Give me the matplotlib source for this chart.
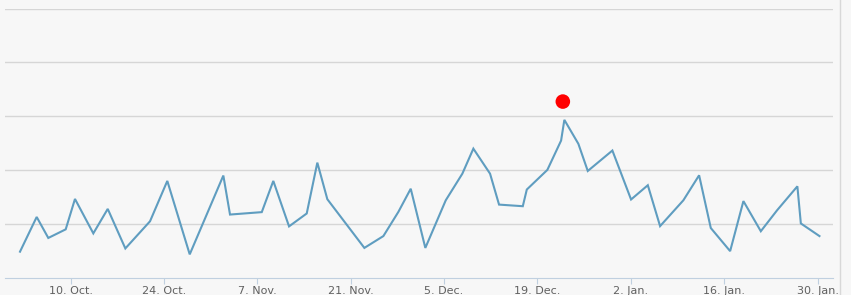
import datetime as dt

import matplotlib
matplotlib.use("Agg")
import matplotlib.dates as mdates
import matplotlib.pyplot as plt
import numpy as np

# days after 10 Oct 2016 (fractional)
day_offsets = [
    -7.57, -5.07, -3.33, -0.72, 0.67, 3.42, 5.58, 8.22, 11.92, 14.51,
    17.87, 22.91, 23.91, 28.67, 30.40, 32.76, 35.41, 37.0, 38.5, 44.05,
    46.9, 49.15, 51.0, 53.19, 56.25, 58.74, 60.39, 62.89, 64.24, 67.8,
    68.4, 71.48, 73.54, 74.03, 76.13, 77.54, 81.23, 84.03, 86.54, 88.38,
    91.87, 94.23, 95.98, 98.88, 100.87, 103.48, 105.92, 108.96, 109.48, 112.27,
]
values = [
    9.6, 22.5, 14.7, 17.9, 29.2, 16.4, 25.5, 10.8, 20.9, 35.9,
    8.6, 37.9, 23.4, 24.3, 35.9, 19.0, 23.8, 42.7, 29.1, 11.0,
    15.4, 24.4, 33.0, 11.0, 28.7, 38.6, 47.9, 38.6, 27.1, 26.5,
    32.7, 40.0, 50.9, 58.6, 49.7, 39.6, 47.2, 29.0, 34.3, 19.1,
    28.7, 38.0, 18.4, 9.8, 28.4, 17.2, 25.0, 33.9, 20.1, 15.4,
]
marker_day = 73.8
marker_value = 65.4

tick_dates = ["2016-10-10", "2016-10-24", "2016-11-07", "2016-11-21", "2016-12-05",
              "2016-12-19", "2017-01-02", "2017-01-16", "2017-01-30"]
tick_labels = ["10. Oct.", "24. Oct.", "7. Nov.", "21. Nov.", "5. Dec.",
               "19. Dec.", "2. Jan.", "16. Jan.", "30. Jan."]

start = mdates.date2num(dt.datetime(2016, 10, 10))
x = start + np.array(day_offsets)
ticks = [mdates.date2num(dt.datetime.fromisoformat(d)) for d in tick_dates]

bg = "#f7f7f7"
fig = plt.figure(figsize=(8.51, 2.95), dpi=100, facecolor=bg)
ax = fig.add_axes([5 / 851, 1 - 277.5 / 295, 828 / 851, 269 / 295])
ax.set_facecolor(bg)

ax.plot(x, values, color="#5f9dc0", lw=1.5, solid_joinstyle="miter", zorder=3)
ax.scatter([start + marker_day], [marker_value], s=110, color="#ff0000",
           edgecolors="none", zorder=4)

ax.set_xlim(start - 9.82, start + 114.3)
ax.set_ylim(0, 100)
ax.set_yticks([20, 40, 60, 80, 100])
ax.yaxis.grid(True, color="#d6d6d6", lw=1)
ax.tick_params(axis="y", left=False, labelleft=False)
ax.set_xticks(ticks)
ax.set_xticklabels(tick_labels, fontsize=8, color="#606060")
ax.tick_params(axis="x", length=4, color="#c0d0e0", pad=2)
for side in ["top", "left", "right"]:
    ax.spines[side].set_visible(False)
ax.spines["bottom"].set_color("#c0d0e0")

fig.add_artist(plt.Line2D([839.5 / 851] * 2, [0, 1], color="#d8d8d8", lw=1))

fig.savefig("out.png", dpi=100, facecolor=bg)
